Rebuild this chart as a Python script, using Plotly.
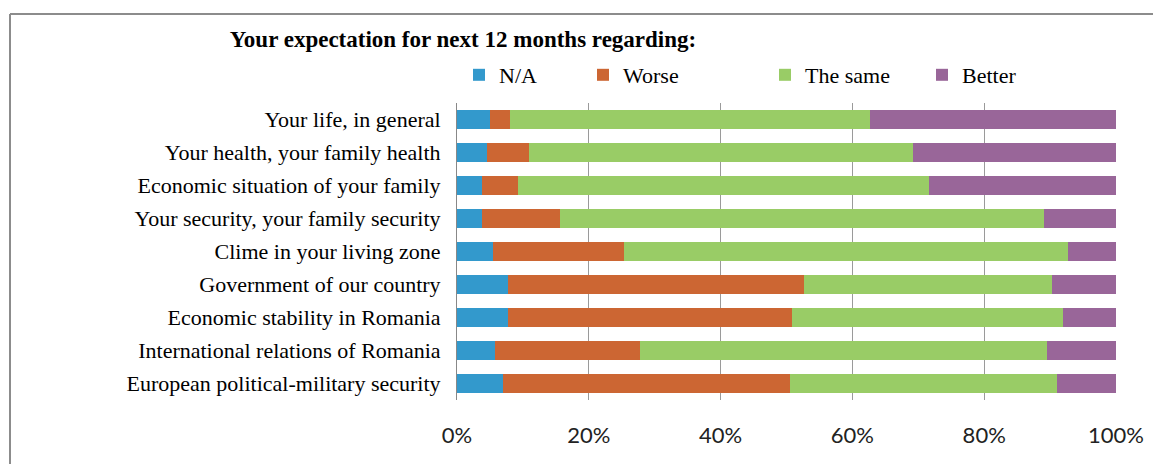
import plotly.graph_objects as go

categories = [
    "Your life, in general",
    "Your health, your family health",
    "Economic situation of your family",
    "Your security, your family security",
    "Clime in your living zone",
    "Government of our country",
    "Economic stability in Romania",
    "International relations of Romania",
    "European political-military security",
]
na_vals = [5.0, 4.5, 3.8, 3.8, 5.4, 7.8, 7.8, 5.8, 7.0]
worse_vals = [3.0, 6.5, 5.5, 11.8, 19.9, 44.9, 43.1, 22.0, 43.6]
same_vals = [54.7, 58.2, 62.3, 73.4, 67.4, 37.6, 41.1, 61.8, 40.5]
better_vals = [37.3, 30.8, 28.4, 11.0, 7.3, 9.7, 8.0, 10.4, 8.9]

series = [
    ("N/A", na_vals, "#3399cc"),
    ("Worse", worse_vals, "#cc6633"),
    ("The same", same_vals, "#99cc66"),
    ("Better", better_vals, "#996699"),
]

serif = "Liberation Serif, Times New Roman, serif"

# page body has an 8px margin, so the figure is laid out 8px up/left
PLOT_L, PLOT_R, PLOT_T, PLOT_B = 457, 1116, 103, 400   # where the plot should appear
SHIFT = 8
W, H = 1161, 464
plot_w = PLOT_R - PLOT_L
plot_h = PLOT_B - PLOT_T

# legend text start positions (page px), one legend box per series
legend_text_x = [497, 621, 803, 960]

fig = go.Figure()
for i, (name, vals, color) in enumerate(series):
    fig.add_trace(go.Bar(
        y=categories, x=vals, name=name, orientation="h",
        marker=dict(color=color, line=dict(width=0)),
        legend="legend" if i == 0 else f"legend{i + 1}",
    ))

legend_layout = {}
for i, tx in enumerate(legend_text_x):
    key = "legend" if i == 0 else f"legend{i + 1}"
    legend_layout[key] = dict(
        orientation="h", x=(tx - 38 - PLOT_L) / plot_w, xanchor="left",
        y=(PLOT_B - 75) / plot_h, yanchor="middle",
        font=dict(family=serif, size=22, color="black"),
        itemwidth=30, bgcolor="rgba(0,0,0,0)",
    )

fig.update_layout(
    barmode="stack",
    barnorm="percent",
    bargap=0.4,
    width=W, height=H,
    margin=dict(l=PLOT_L - SHIFT, r=W - PLOT_R + SHIFT,
                t=PLOT_T - SHIFT, b=H - PLOT_B + SHIFT),
    paper_bgcolor="white", plot_bgcolor="white",
    font=dict(family=serif, color="black"),
    title=dict(
        text="<b>Your expectation for next 12 months regarding:</b>",
        x=(463 - SHIFT) / W, xanchor="center", xref="container",
        y=1 - (39 - SHIFT) / H, yanchor="middle", yref="container",
        font=dict(family=serif, size=23, color="black"),
    ),
    showlegend=True,
    **legend_layout,
)

fig.update_xaxes(
    range=[0, 100], dtick=20, ticksuffix="%",
    showgrid=True, gridcolor="#9a9a9a", gridwidth=1,
    zeroline=False, showline=False,
    tickfont=dict(family="Lato, Open Sans, sans-serif", size=22, color="#222"),
    ticklabelstandoff=20,
)
fig.update_yaxes(
    autorange="reversed",
    showline=True, linecolor="#888", linewidth=1,
    tickfont=dict(family=serif, size=22, color="black"),
    ticklabelstandoff=11, showgrid=False,
)

# outer frame of the chart
x_left = (10 - PLOT_L) / plot_w
x_right = (W + 20 - PLOT_L) / plot_w
y_top = (PLOT_B - 14) / plot_h
y_bottom = (PLOT_B - H - 20) / plot_h
fig.add_shape(type="line", xref="paper", yref="paper",
              x0=x_left, x1=x_right, y0=y_top, y1=y_top,
              line=dict(color="#8c8c8c", width=2))
fig.add_shape(type="line", xref="paper", yref="paper",
              x0=x_left, x1=x_left, y0=y_top, y1=y_bottom,
              line=dict(color="#8c8c8c", width=2))

fig.write_html("out.html")
